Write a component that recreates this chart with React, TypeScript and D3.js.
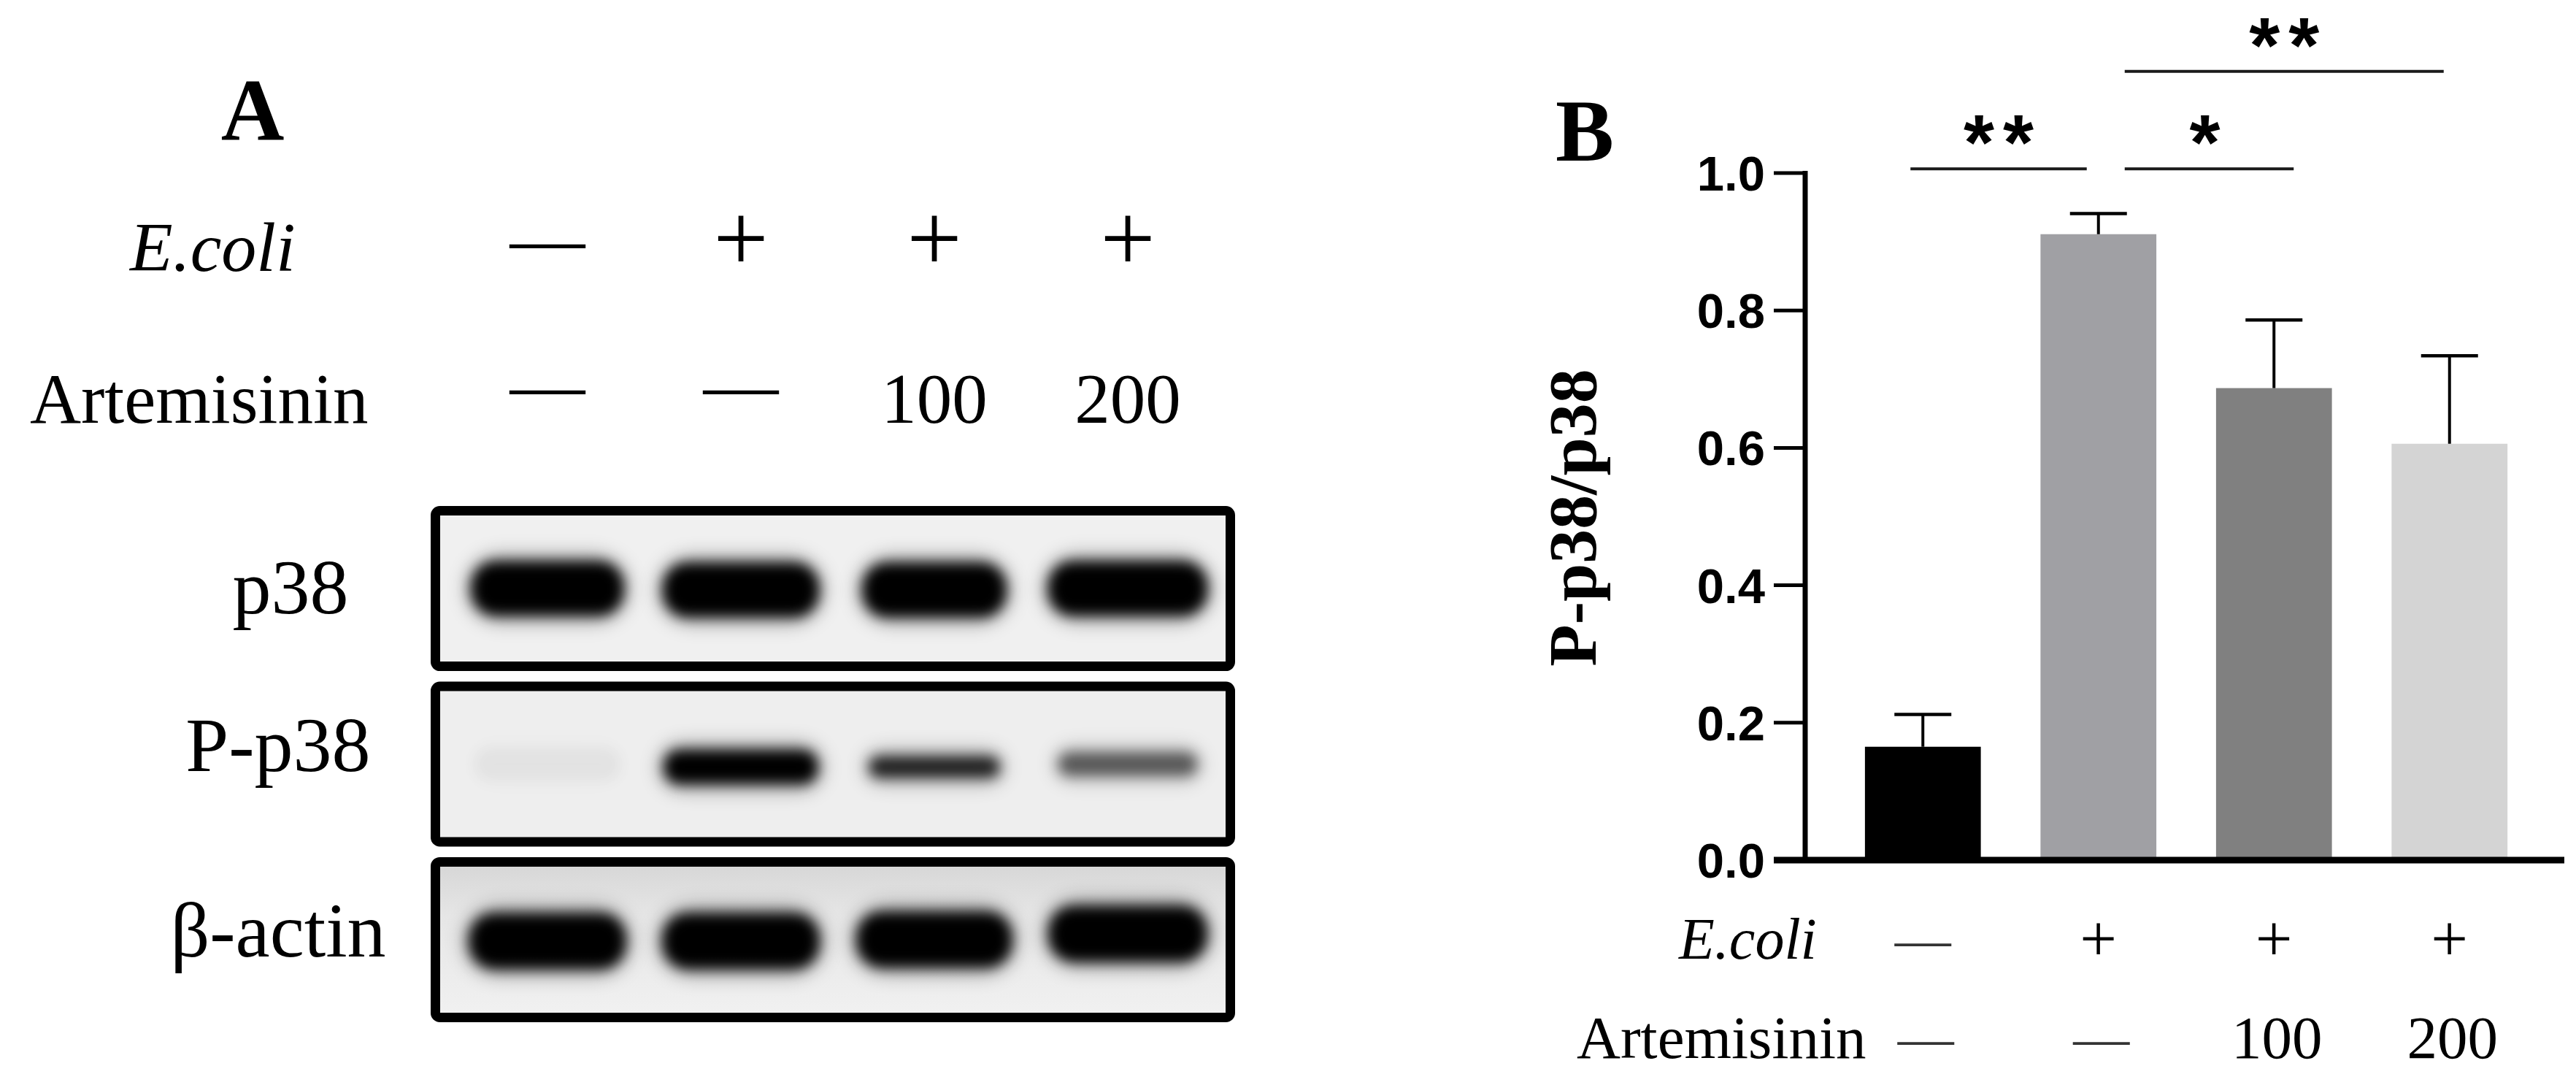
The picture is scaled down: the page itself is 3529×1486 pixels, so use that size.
import React from "react";
import * as d3 from "d3";

// ---------------- data ----------------
const groups = ["Control", "E.coli", "E.coli+Art100", "E.coli+Art200"];
const ratioMeans = [0.165, 0.911, 0.687, 0.606];
const ratioErrors = [0.047, 0.03, 0.099, 0.128];
const barColors = ["#000000", "#a0a0a4", "#808080", "#d4d4d4"];
const yTickValues = [0, 0.2, 0.4, 0.6, 0.8, 1.0];
const ecoliMarks = ["—", "+", "+", "+"];
const artemisininMarks = ["—", "—", "100", "200"];
const comparisons = [
  { from: 0, to: 1, level: 1.006, label: "**" },
  { from: 1, to: 2, level: 1.006, label: "*" },
  { from: 1, to: 3, level: 1.148, label: "**" },
];
const blotRows = ["p38", "P-p38", "β-actin"];
const p38Band = [1, 1, 1, 1];
const pp38Band = [0.03, 1, 0.82, 0.55];
const actinBand = [1, 1, 1, 1];
const bandIntensities = [p38Band, pp38Band, actinBand];

// ---------------- layout / style ----------------
const W = 3529;
const H = 1486;
const SERIF = "'Liberation Serif', 'Times New Roman', serif";
const SANS = "'Liberation Sans', Arial, sans-serif";

const bracketInsets = [
  [-17, -16],
  [36, 27],
  [36, -8],
];
const rowLabelX = [398, 381, 381];
const rowLabelDy = [34, 9, 23];
const bandHeights = [74, 46, 76];
const bandCoreScale = [
  [1, 1, 1, 1],
  [1, 1, 0.62, 0.7],
  [1, 1, 1, 1],
];
const bandDy = [
  [0, 2, 2, 0],
  [0, 4, 4, 0],
  [2, 2, 0, -8],
];
const bandWidths = [
  [208, 213, 196, 217],
  [200, 210, 178, 190],
  [214, 214, 212, 216],
];

export default function App() {
  // Panel B scales
  const x = d3
    .scaleBand<string>()
    .domain(groups)
    .range([2514, 3476])
    .paddingInner(0.34)
    .paddingOuter(0.17);
  const y = d3.scaleLinear().domain([0, 1]).range([1178, 237]);
  const cx = (i: number) => (x(groups[i]) as number) + x.bandwidth() / 2;
  const axisX = 2473;

  // Panel A scales
  const lane = d3.scalePoint<string>().domain(groups).range([750, 1545]);
  const rows = d3
    .scaleBand<string>()
    .domain(blotRows)
    .range([693, 1400])
    .paddingInner(0.06);
  const boxX0 = 590;
  const boxX1 = 1692;
  const border = 13;

  const capHalf = 39;

  return (
    <svg
      width={W}
      height={H}
      viewBox={`0 0 ${W} ${H}`}
      style={{ position: "absolute", left: 0, top: 0, background: "#ffffff" }}
    >
      <defs>
        <filter id="blur" x="-30%" y="-80%" width="160%" height="260%">
          <feGaussianBlur stdDeviation="9" />
        </filter>
        <filter id="blurSoft" x="-30%" y="-80%" width="160%" height="260%">
          <feGaussianBlur stdDeviation="14" />
        </filter>
        <linearGradient id="actinBg" x1="0" y1="0" x2="0" y2="1">
          <stop offset="0" stopColor="#d6d6d6" />
          <stop offset="0.35" stopColor="#e6e6e6" />
          <stop offset="1" stopColor="#f1f1f1" />
        </linearGradient>
      </defs>
      <rect x={0} y={0} width={W} height={H} fill="#ffffff" />

      {/* ================= Panel A ================= */}
      <text x={346} y={191} fontFamily={SERIF} fontWeight="bold" fontSize={120} textAnchor="middle">
        A
      </text>
      <text x={178} y={371} fontFamily={SERIF} fontStyle="italic" fontSize={96}>
        E.coli
      </text>
      <text x={41} y={579} fontFamily={SERIF} fontSize={97}>
        Artemisinin
      </text>
      {ecoliMarks.map((m, i) => (
        <text
          key={"ae" + i}
          x={lane(groups[i])}
          y={m === "+" ? 371 : 362}
          fontFamily={SERIF}
          fontSize={m === "+" ? 134 : 103}
          textAnchor="middle"
        >
          {m}
        </text>
      ))}
      {artemisininMarks.map((m, i) => (
        <text
          key={"aa" + i}
          x={lane(groups[i])}
          y={m === "—" ? 562 : 579}
          fontFamily={SERIF}
          fontSize={m === "—" ? 103 : 97}
          textAnchor="middle"
        >
          {m}
        </text>
      ))}

      {blotRows.map((r, ri) => {
        const top = rows(r) as number;
        const bh = rows.bandwidth();
        const mid = top + bh / 2;
        return (
          <g key={"row" + ri}>
            <text
              x={rowLabelX[ri]}
              y={mid + rowLabelDy[ri]}
              fontFamily={SERIF}
              fontSize={106}
              textAnchor="middle"
            >
              {r}
            </text>
            <rect
              x={boxX0 + border / 2}
              y={top + border / 2}
              width={boxX1 - boxX0 - border}
              height={bh - border}
              fill={ri === 2 ? "url(#actinBg)" : ri === 1 ? "#eeeeee" : "#f0f0f0"}
            />
            <g>
              {bandIntensities[ri].map((v, li) => {
                const w = bandWidths[ri][li];
                const h = bandHeights[ri] * bandCoreScale[ri][li];
                const c = lane(groups[li]) as number;
                const cy = mid + bandDy[ri][li];
                return (
                  <g key={"b" + li}>
                    <rect
                      x={c - w / 2 - 6}
                      y={cy - h / 2 - 8}
                      width={w + 12}
                      height={h + 16}
                      rx={(h + 16) / 2}
                      fill="#000"
                      opacity={v * 0.35}
                      filter="url(#blurSoft)"
                    />
                    <rect
                      x={c - w / 2}
                      y={cy - h / 2}
                      width={w}
                      height={h}
                      rx={h / 2.2}
                      fill="#000"
                      opacity={v}
                      filter="url(#blur)"
                    />
                  </g>
                );
              })}
            </g>
            <rect
              x={boxX0 + border / 2}
              y={top + border / 2}
              width={boxX1 - boxX0 - border}
              height={bh - border}
              rx={6}
              fill="none"
              stroke="#000"
              strokeWidth={border}
            />
          </g>
        );
      })}

      {/* ================= Panel B ================= */}
      <text x={2171} y={220} fontFamily={SERIF} fontWeight="bold" fontSize={120} textAnchor="middle">
        B
      </text>
      <text
        transform={`translate(2186,709) rotate(-90)`}
        fontFamily={SERIF}
        fontWeight="bold"
        fontSize={94}
        textAnchor="middle"
      >
        P-p38/p38
      </text>

      {/* bars */}
      {groups.map((g, i) => (
        <rect
          key={"bar" + i}
          x={x(g)}
          y={y(ratioMeans[i])}
          width={x.bandwidth()}
          height={y(0) - y(ratioMeans[i])}
          fill={barColors[i]}
        />
      ))}
      {/* error bars */}
      {groups.map((g, i) => {
        const top = y(ratioMeans[i] + ratioErrors[i]);
        return (
          <g key={"err" + i} stroke="#000">
            <line x1={cx(i)} x2={cx(i)} y1={y(ratioMeans[i])} y2={top} strokeWidth={4} />
            <line x1={cx(i) - capHalf} x2={cx(i) + capHalf} y1={top} y2={top} strokeWidth={4.5} />
          </g>
        );
      })}

      {/* axes */}
      <line x1={axisX} x2={axisX} y1={y(1) - 3} y2={y(0)} stroke="#000" strokeWidth={7} />
      <line x1={2430} x2={3513} y1={y(0)} y2={y(0)} stroke="#000" strokeWidth={9} />
      {yTickValues.map((t) => (
        <g key={"t" + t}>
          <line x1={2430} x2={axisX} y1={y(t)} y2={y(t)} stroke="#000" strokeWidth={5} />
          <text
            x={2418}
            y={y(t) + 24}
            fontFamily={SANS}
            fontWeight="bold"
            fontSize={67}
            textAnchor="end"
          >
            {d3.format(".1f")(t)}
          </text>
        </g>
      ))}

      {/* significance */}
      {comparisons.map((c, k) => {
        const by = y(c.level);
        const x1 = cx(c.from) + bracketInsets[k][0];
        const x2 = cx(c.to) + bracketInsets[k][1];
        return (
          <g key={"sig" + k}>
            <line x1={x1} x2={x2} y1={by} y2={by} stroke="#1a1a1a" strokeWidth={4} />
            <text
              x={(x1 + x2) / 2 + (c.label.length > 1 ? 6 : 0)}
              y={by + 1}
              fontFamily={SANS}
              fontWeight="bold"
              fontSize={108}
              letterSpacing={12}
              textAnchor="middle"
            >
              {c.label}
            </text>
          </g>
        );
      })}

      {/* condition rows */}
      <text x={2300} y={1313} fontFamily={SERIF} fontStyle="italic" fontSize={80}>
        E.coli
      </text>
      <text x={2160} y={1449} fontFamily={SERIF} fontSize={83}>
        Artemisinin
      </text>
      {ecoliMarks.map((m, i) => (
        <text
          key={"be" + i}
          x={cx(i)}
          y={m === "+" ? 1316 : 1312}
          fontFamily={SERIF}
          fontSize={m === "+" ? 90 : 77}
          textAnchor="middle"
          fill={m === "+" ? "#000" : "#333"}
        >
          {m}
        </text>
      ))}
      {artemisininMarks.map((m, i) => (
        <text
          key={"ba" + i}
          x={cx(i) + 4}
          y={m === "—" ? 1447 : 1449}
          fontFamily={SERIF}
          fontSize={m === "—" ? 77 : 83}
          textAnchor="middle"
          fill={m === "—" ? "#333" : "#000"}
        >
          {m}
        </text>
      ))}
    </svg>
  );
}
